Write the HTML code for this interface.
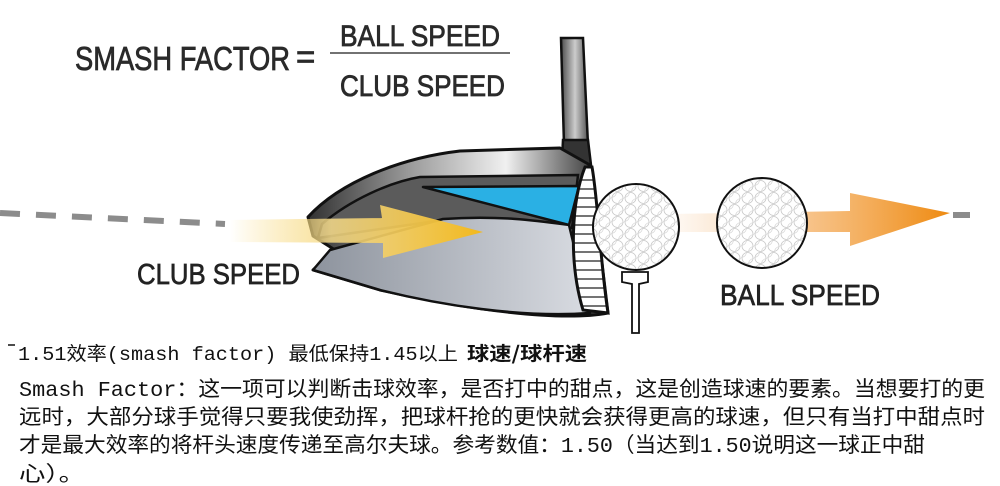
<!DOCTYPE html>
<html><head><meta charset="utf-8"><style>
html,body{margin:0;padding:0;background:#fff;width:1000px;height:486px;overflow:hidden}
</style></head><body>
<svg width="1000" height="486" viewBox="0 0 1000 486" xmlns="http://www.w3.org/2000/svg">
<defs>
<linearGradient id="yel" x1="230" y1="0" x2="483" y2="0" gradientUnits="userSpaceOnUse">
<stop offset="0" stop-color="#f7d36a" stop-opacity="0"/><stop offset="0.4" stop-color="#f7dc8a" stop-opacity="0.85"/><stop offset="1" stop-color="#f2b81c"/></linearGradient>
<linearGradient id="org" x1="670" y1="0" x2="950" y2="0" gradientUnits="userSpaceOnUse">
<stop offset="0" stop-color="#f6c89a" stop-opacity="0.1"/><stop offset="0.5" stop-color="#f5b36a" stop-opacity="0.8"/><stop offset="1" stop-color="#ee8a10"/></linearGradient>
<linearGradient id="rim" x1="310" y1="0" x2="590" y2="0" gradientUnits="userSpaceOnUse">
<stop offset="0" stop-color="#333"/><stop offset="0.35" stop-color="#999"/><stop offset="0.7" stop-color="#f0f0f0"/><stop offset="1" stop-color="#444"/></linearGradient>
<linearGradient id="body" x1="320" y1="0" x2="590" y2="0" gradientUnits="userSpaceOnUse">
<stop offset="0" stop-color="#8f959f"/><stop offset="1" stop-color="#d9dce2"/></linearGradient>
<linearGradient id="shaft" x1="562" y1="0" x2="588" y2="0" gradientUnits="userSpaceOnUse">
<stop offset="0" stop-color="#555"/><stop offset="0.5" stop-color="#ccc"/><stop offset="1" stop-color="#555"/></linearGradient>
<pattern id="dimp" width="13" height="12" patternUnits="userSpaceOnUse">
<circle cx="6.5" cy="6" r="5.5" fill="none" stroke="#c8c8c8" stroke-width="0.8"/>
<circle cx="0" cy="0" r="5.5" fill="none" stroke="#d4d4d4" stroke-width="0.6"/>
<circle cx="13" cy="12" r="5.5" fill="none" stroke="#d4d4d4" stroke-width="0.6"/>
</pattern>
<clipPath id="faceclip"><path d="M585,167 C572,200 568,260 583,310 L608,313 C600,260 598,200 592,167 Z"/></clipPath>
</defs>

<path d="M0,213 L225,224" stroke="#8c8c8c" stroke-width="6" stroke-dasharray="20,16"/>
<path d="M953,215 L970,215" stroke="#8c8c8c" stroke-width="6"/>

<g font-family="Liberation Sans, sans-serif" fill="#2a2a2a" stroke="#2a2a2a" stroke-width="0.8">
<text x="75" y="70" font-size="33" textLength="215" lengthAdjust="spacingAndGlyphs">SMASH FACTOR</text>
<text x="296" y="68" font-size="33">=</text>
<text x="340" y="46" font-size="30" textLength="160" lengthAdjust="spacingAndGlyphs">BALL SPEED</text>
<text x="340" y="96" font-size="30" textLength="165" lengthAdjust="spacingAndGlyphs">CLUB SPEED</text>
</g>
<line x1="330" y1="53" x2="510" y2="53" stroke="#444" stroke-width="1.5"/>

<path d="M561,38 L583,38 L588,145 L564,145 Z" fill="url(#shaft)" stroke="#111" stroke-width="2.5"/>
<path d="M563,140 L588,140 L591,165 L562,160 Z" fill="#333" stroke="#111" stroke-width="2.5"/>

<path d="M308,217 C340,182 400,158 460,151 L560,148 L590,165 L608,313 C560,322 470,310 380,290 L313,270 L335,250 L313,236 Z" fill="url(#rim)" stroke="#111" stroke-width="3" stroke-linejoin="round"/>
<path d="M322,224 C350,200 390,182 420,177 L578,175 L572,228 L443,220 L318,238 Z" fill="#5b5b5b" stroke="#111" stroke-width="2.5"/>
<path d="M423,187 L579,186 L569,225 Z" fill="#2ab0e4" stroke="#111" stroke-width="2.5" stroke-linejoin="round"/>
<path d="M330,250 L443,219 C500,215 540,221 569,225 L590,313 C520,318 440,305 380,290 L313,270 Z" fill="url(#body)" stroke="#111" stroke-width="2.5" stroke-linejoin="round"/>
<path d="M585,167 C572,200 568,260 583,310 L608,313 C600,260 598,200 592,167 Z" fill="#fff"/>
<g clip-path="url(#faceclip)" stroke="#222" stroke-width="1.3">
<line x1="560" y1="180" x2="620" y2="180"/><line x1="560" y1="189" x2="620" y2="189"/><line x1="560" y1="198" x2="620" y2="198"/><line x1="560" y1="207" x2="620" y2="207"/><line x1="560" y1="216" x2="620" y2="216"/><line x1="560" y1="225" x2="620" y2="225"/><line x1="560" y1="234" x2="620" y2="234"/><line x1="560" y1="243" x2="620" y2="243"/><line x1="560" y1="252" x2="620" y2="252"/><line x1="560" y1="261" x2="620" y2="261"/><line x1="560" y1="270" x2="620" y2="270"/><line x1="560" y1="279" x2="620" y2="279"/><line x1="560" y1="288" x2="620" y2="288"/><line x1="560" y1="297" x2="620" y2="297"/><line x1="560" y1="306" x2="620" y2="306"/>
</g>
<path d="M585,167 C572,200 568,260 583,310 L608,313 C600,260 598,200 592,167 Z" fill="none" stroke="#111" stroke-width="3"/>

<path d="M230,220 L382,218 L380,205 L483,232 L383,258 L383,243 L230,242 Z" fill="url(#yel)"/>
<path d="M670,214 L850,211 L850,193 L950,213 L850,246 L850,232 L670,232 Z" fill="url(#org)"/>

<path d="M622,272 L648,272 L648,282 L639,284 L639,333 L632,333 L632,284 L622,282 Z" fill="#fff" stroke="#111" stroke-width="1.8"/>
<circle cx="636" cy="227" r="43" fill="#fff"/>
<circle cx="636" cy="227" r="43" fill="url(#dimp)" stroke="#111" stroke-width="2"/>
<circle cx="762" cy="223" r="45" fill="#fff"/>
<circle cx="762" cy="223" r="45" fill="url(#dimp)" stroke="#111" stroke-width="2"/>

<g font-family="Liberation Sans, sans-serif" fill="#222" stroke="#222" stroke-width="0.7">
<text x="137" y="284" font-size="29" textLength="163" lengthAdjust="spacingAndGlyphs">CLUB SPEED</text>
<text x="720" y="305" font-size="29" textLength="160" lengthAdjust="spacingAndGlyphs">BALL SPEED</text>
</g>

<line x1="8" y1="345" x2="15" y2="345" stroke="#111" stroke-width="1.5"/>
<text x="18" y="360" font-family="Liberation Mono, Noto Sans CJK SC, sans-serif" font-size="19" fill="#111" textLength="440" lengthAdjust="spacingAndGlyphs">1.51效率(smash factor) 最低保持1.45以上</text>
<text x="467" y="360" font-family="Noto Sans CJK SC, sans-serif" font-size="19" font-weight="bold" fill="#111" textLength="120" lengthAdjust="spacingAndGlyphs">球速/球杆速</text>
<g font-family="Liberation Mono, Noto Sans CJK SC, sans-serif" font-size="21" fill="#111">
<text x="19" y="396" textLength="966" lengthAdjust="spacingAndGlyphs">Smash Factor：这一项可以判断击球效率，是否打中的甜点，这是创造球速的要素。当想要打的更</text>
<text x="19" y="424" textLength="966" lengthAdjust="spacingAndGlyphs">远时，大部分球手觉得只要我使劲挥，把球杆抢的更快就会获得更高的球速，但只有当打中甜点时</text>
<text x="19" y="452" textLength="906" lengthAdjust="spacingAndGlyphs">才是最大效率的将杆头速度传递至高尔夫球。参考数值：1.50（当达到1.50说明这一球正中甜</text>
<text x="19" y="481" textLength="66" lengthAdjust="spacingAndGlyphs">心）。</text>
</g>
</svg>
</body></html>
